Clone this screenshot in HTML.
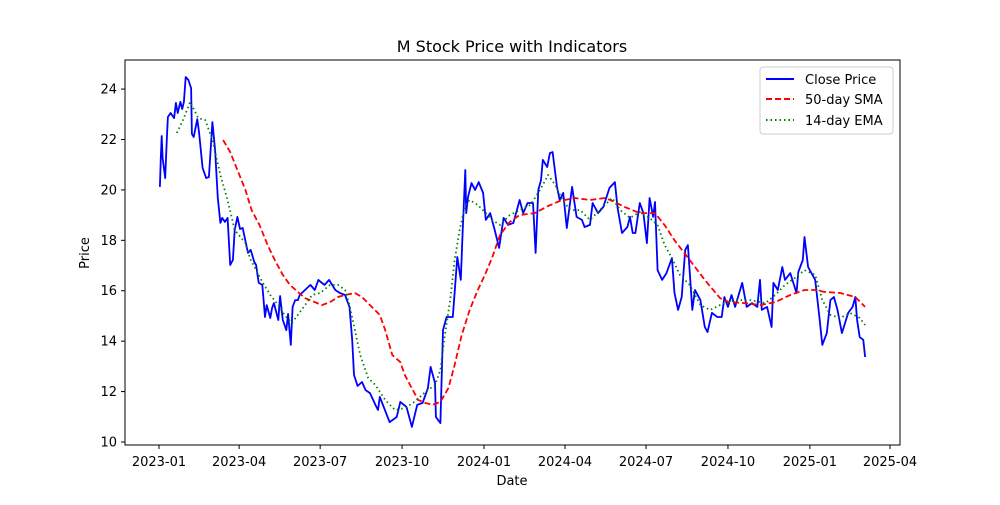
<!DOCTYPE html>
<html><head><meta charset="utf-8"><style>
body{margin:0;background:#fff;width:1000px;height:500px;overflow:hidden}
text{font-family:"DejaVu Sans","Liberation Sans",sans-serif;fill:#000}
</style></head><body>
<svg id="chart" width="1000" height="500" xmlns="http://www.w3.org/2000/svg">
<rect x="0" y="0" width="1000" height="500" fill="#fff"/>
<text x="512" y="52" font-size="16" text-anchor="middle">M Stock Price with Indicators</text>
<text x="512" y="485" font-size="13" text-anchor="middle">Date</text>
<text transform="translate(89,253) rotate(-90)" font-size="13" text-anchor="middle">Price</text>
<g id="ticks"></g>
<g id="series"></g>
<rect x="125" y="60" width="775" height="385" fill="none" stroke="#000" stroke-width="1"/>
<g>
<rect x="760" y="67" width="133" height="67" rx="3" fill="#fff" fill-opacity="0.8" stroke="#ccc"/>
<line x1="766" y1="79" x2="794" y2="79" stroke="#0000ff" stroke-width="2"/>
<text x="805" y="84" font-size="13">Close Price</text>
<line x1="766" y1="99" x2="794" y2="99" stroke="#ff0000" stroke-width="2" stroke-dasharray="6,3"/>
<text x="805" y="104" font-size="13">50-day SMA</text>
<line x1="766" y1="120" x2="794" y2="120" stroke="#008000" stroke-width="2" stroke-dasharray="1.5,3"/>
<text x="805" y="125" font-size="13">14-day EMA</text>
</g>
</svg>
<script>
// days since 2023-01-01
const closeDays=[1,2,3,4,7,9,10,13,17,19,21,24,26,28,30,33,36,37,39,43,45,49,53,56,60,63,66,69,71,74,77,80,83,85,88,91,94,100,103,107,109,112,116,119,121,125,127,129,134,136,139,143,145,148,150,153,156,158,164,170,175,179,183,186,191,198,203,209,211,214,217,219,223,228,232,237,243,246,
248,259,267,271,278,284,290,296,302,305,310,311,316,319,323,330,332,335,339,341,344,345,347,351,355,359,364,367,372,377,382,387,392,398,402,405,409,414,420,423,426,429,431,436,439,442,447,450,454,458,464,469,475,478,484,487,493,499,506,512,515,520,526,529,532,535,540,544,548,551,555,557,560,565,570,576,579,583,587,591,594,599,602,608,613,616,621,627,632,635,639,643,647,655,660,666,672,675,677,683,688,690,695,700,703,709,716,718,723,725,729,737,742,745,750,754,758,762,767,774,779,782,784,787,791,793];
const closeVals=[20.12,21.27,22.14,21.27,20.47,22.18,22.89,23.05,22.85,23.45,23.05,23.49,23.21,23.49,24.48,24.36,24.04,22.22,22.10,22.81,22.26,20.87,20.47,20.51,22.69,21.58,19.68,18.69,18.89,18.73,18.89,17.02,17.22,18.41,18.93,18.45,18.49,17.50,17.62,17.14,17.02,16.31,16.23,14.96,15.43,14.92,15.32,15.51,14.84,15.79,14.84,14.44,15.08,13.85,15.36,15.63,15.63,15.83,16.03,16.23,16.03,16.43,16.31,16.23,16.43,16.03,15.91,15.83,15.63,15.36,14.05,12.66,12.22,12.38,12.06,11.94,11.47,11.27,
11.79,10.79,10.99,11.59,11.39,10.60,11.47,11.55,12.14,12.98,12.34,10.99,10.75,14.44,14.96,14.96,15.91,17.34,16.43,18.29,20.79,19.08,19.72,20.27,20.00,20.31,19.88,18.81,19.08,18.41,17.70,18.89,18.61,18.69,19.20,19.60,19.08,19.48,19.48,17.50,20.00,20.39,21.19,20.91,21.46,21.50,20.12,19.60,19.88,18.49,20.12,18.93,18.81,18.53,18.61,19.48,19.08,19.32,20.08,20.31,19.28,18.29,18.53,18.93,18.29,18.29,19.48,19.08,17.89,19.68,18.93,19.52,16.82,16.43,16.70,17.30,15.91,15.24,15.75,17.62,17.81,15.24,16.03,15.63,14.56,14.36,15.12,14.96,14.96,15.75,15.36,15.83,15.36,16.31,15.36,15.51,15.36,16.43,15.24,15.36,14.56,16.31,16.03,16.94,16.43,16.70,15.91,16.74,17.22,18.13,16.94,16.43,14.84,13.85,14.32,15.63,15.75,15.24,14.32,15.12,15.36,15.75,14.84,14.16,14.05,13.37];
const smaDays=[72,80,88,97,104,113,122,130,139,147,156,164,175,183,192,201,209,220,228,237,248,254,262,271,276,282,291,299,307,316,325,332,340,349,358,366,374,383,394,405,422,437,450,467,484,501,512,523,540,557,568,579,596,613,630,640,658,675,692,709,725,737,748,765,782,793];
const smaVals=[21.98,21.5,20.79,20.0,19.2,18.6,17.81,17.22,16.63,16.23,15.95,15.71,15.55,15.43,15.55,15.75,15.83,15.91,15.75,15.43,15.04,14.44,13.45,13.17,12.66,12.26,11.67,11.55,11.47,11.59,12.14,13.05,14.24,15.24,16.03,16.63,17.30,18.21,18.73,19.0,19.08,19.36,19.56,19.68,19.6,19.68,19.52,19.32,19.08,19.08,18.6,18.0,17.22,16.43,15.71,15.55,15.51,15.43,15.55,15.83,16.03,16.03,15.95,15.91,15.75,15.36];
const emaDays=[20,27,35,44,52,60,69,77,85,97,102,109,116,125,134,141,149,156,164,172,181,192,201,209,214,220,226,235,243,254,265,276,287,299,310,316,321,327,332,338,344,349,358,366,374,383,394,405,417,428,437,445,453,462,473,484,495,509,518,529,540,551,560,568,576,585,596,608,619,630,647,664,681,692,703,714,725,737,745,754,765,776,787,793];
const emaVals=[22.26,22.77,23.49,22.85,22.77,21.98,20.59,19.6,18.41,17.89,17.3,16.82,16.35,15.83,15.43,15.04,14.72,15.04,15.43,15.83,15.91,16.23,16.23,16.03,15.43,14.44,13.45,12.54,12.26,11.67,11.27,11.35,11.59,11.98,12.26,12.86,14.24,15.63,17.22,18.49,19.4,19.6,19.4,19.12,18.81,18.61,19.0,19.2,19.4,20.0,20.59,20.2,19.6,19.2,19.2,18.81,19.2,19.68,19.2,18.89,19.12,18.89,18.6,17.81,17.3,16.63,16.23,15.43,15.24,15.43,15.63,15.63,15.51,15.83,16.23,16.5,16.82,16.63,15.63,15.04,14.92,15.12,14.92,14.64];
const yTicks=[10,12,14,16,18,20,22,24];
const xTickLabels=["2023-01","2023-04","2023-07","2023-10","2024-01","2024-04","2024-07","2024-10","2025-01","2025-04"];
const xTickDays=[0,90,181,273,365,456,547,639,731,821];

const NS="http://www.w3.org/2000/svg";
const xs=d=>159+d*0.8904;
const ys=v=>442-(v-10)*25.21;
const tg=document.getElementById('ticks');
yTicks.forEach(v=>{
  const l=document.createElementNS(NS,'line');
  
  
  l.setAttribute('x1',121);l.setAttribute('x2',125);l.setAttribute('y1',ys(v));l.setAttribute('y2',ys(v));l.setAttribute('stroke','#000');
  tg.appendChild(l);
  const t=document.createElementNS(NS,'text');
  
  
  t.setAttribute('x',117);t.setAttribute('y',ys(v)+4.5);t.setAttribute('text-anchor','end');t.setAttribute('font-size','13');
  t.textContent=v;tg.appendChild(t);
});
xTickLabels.forEach((lab,i)=>{
  const x=xs(xTickDays[i]);
  const l=document.createElementNS(NS,'line');
  
  
  l.setAttribute('x1',x);l.setAttribute('x2',x);l.setAttribute('y1',445);l.setAttribute('y2',449);l.setAttribute('stroke','#000');
  tg.appendChild(l);
  const t=document.createElementNS(NS,'text');
  
  
  t.setAttribute('x',x);t.setAttribute('y',466);t.setAttribute('text-anchor','middle');t.setAttribute('font-size','13');
  t.textContent=lab;tg.appendChild(t);
});
const sg=document.getElementById('series');
function line(days,vals,color,dash,name){
  const p=document.createElementNS(NS,'polyline');
  
  
  p.setAttribute('points',days.map((d,i)=>xs(d).toFixed(1)+','+ys(vals[i]).toFixed(1)).join(' '));
  p.setAttribute('fill','none');p.setAttribute('stroke',color);p.setAttribute('stroke-width','1.8');
  p.setAttribute('stroke-linejoin','round');
  if(dash)p.setAttribute('stroke-dasharray',dash);
  sg.appendChild(p);
}
line(closeDays,closeVals,'#0000ff',null,'close-price-line');
line(smaDays,smaVals,'#ff0000','6,3','sma-50-line');
line(emaDays,emaVals,'#008000','1.5,3','ema-14-line');
</script>
</body></html>
